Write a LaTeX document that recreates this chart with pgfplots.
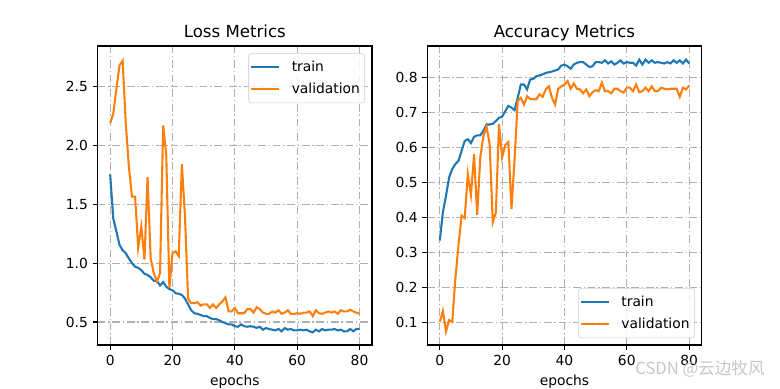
\documentclass[border=0pt]{standalone}
\usepackage{fontspec}
\setmainfont{DejaVu Sans}
\newfontfamily\cjk{Noto Sans CJK SC}
\usepackage{pgfplots}
\usepackage{pgfplotstable}
\pgfplotsset{compat=1.18}
\definecolor{tabblue}{HTML}{1F77B4}
\definecolor{taborange}{HTML}{FF7F0E}
\definecolor{gridgray}{HTML}{B0B0B0}
\definecolor{legedge}{HTML}{CCCCCC}

\pgfplotstableread{
e tl vl ta va
0 1.754 2.19 0.334 0.102
1 1.38 2.27 0.415 0.133
2 1.27 2.48 0.462 0.075
3 1.155 2.68 0.514 0.107
4 1.11 2.72 0.538 0.102
5 1.085 2.19 0.552 0.225
6 1.04 1.82 0.561 0.32
7 1.00 1.565 0.59 0.405
8 0.97 1.565 0.618 0.398
9 0.96 1.13 0.623 0.523
10 0.94 1.31 0.612 0.464
11 0.91 1.03 0.630 0.58
12 0.90 1.73 0.634 0.407
13 0.88 1.04 0.634 0.571
14 0.85 0.915 0.647 0.632
15 0.85 0.845 0.665 0.659
16 0.81 0.915 0.665 0.609
17 0.84 2.17 0.667 0.386
18 0.80 1.92 0.675 0.414
19 0.78 0.79 0.684 0.666
20 0.77 1.085 0.687 0.571
21 0.745 1.10 0.703 0.606
22 0.74 1.06 0.718 0.615
23 0.73 1.84 0.713 0.424
24 0.70 1.40 0.706 0.566
25 0.65 0.70 0.741 0.732
26 0.60 0.66 0.779 0.741
27 0.575 0.66 0.779 0.722
28 0.57 0.67 0.765 0.746
29 0.56 0.64 0.793 0.738
30 0.55 0.65 0.795 0.737
31 0.55 0.65 0.803 0.737
32 0.535 0.62 0.805 0.751
33 0.525 0.65 0.808 0.744
34 0.525 0.62 0.812 0.765
35 0.515 0.65 0.814 0.774
36 0.50 0.675 0.816 0.741
37 0.49 0.71 0.819 0.722
38 0.48 0.59 0.822 0.767
39 0.48 0.59 0.833 0.774
40 0.465 0.62 0.836 0.779
41 0.46 0.575 0.831 0.789
42 0.48 0.575 0.824 0.767
43 0.465 0.575 0.836 0.782
44 0.46 0.61 0.841 0.767
45 0.465 0.61 0.843 0.765
46 0.46 0.58 0.843 0.754
47 0.45 0.625 0.836 0.765
48 0.46 0.61 0.829 0.746
49 0.435 0.58 0.831 0.757
50 0.449 0.57 0.843 0.763
51 0.441 0.57 0.843 0.760
52 0.435 0.59 0.841 0.784
53 0.429 0.58 0.848 0.760
54 0.441 0.60 0.839 0.760
55 0.421 0.57 0.845 0.754
56 0.449 0.58 0.836 0.767
57 0.435 0.60 0.841 0.767
58 0.441 0.57 0.848 0.760
59 0.429 0.57 0.839 0.756
60 0.429 0.575 0.843 0.770
61 0.435 0.57 0.841 0.770
62 0.429 0.58 0.841 0.760
63 0.435 0.58 0.833 0.779
64 0.421 0.59 0.85 0.757
65 0.412 0.55 0.836 0.760
66 0.435 0.60 0.85 0.770
67 0.421 0.575 0.841 0.760
68 0.441 0.57 0.848 0.774
69 0.429 0.58 0.841 0.760
70 0.435 0.59 0.843 0.760
71 0.435 0.58 0.841 0.770
72 0.441 0.59 0.839 0.767
73 0.429 0.57 0.843 0.765
74 0.435 0.60 0.839 0.767
75 0.421 0.59 0.848 0.767
76 0.421 0.59 0.841 0.767
77 0.441 0.605 0.848 0.744
78 0.421 0.59 0.839 0.770
79 0.441 0.58 0.85 0.765
80 0.441 0.57 0.839 0.776
}\metrics

\pgfplotsset{mpl/.style={
  width=197.5bp, height=215.3bp, scale only axis,
  xmin=-4, xmax=84, xtick={0,20,40,60,80},
  axis line style={line width=0.8bp, black},
  every tick/.style={line width=0.8bp, black},
  tick align=outside, major tick length=3.5bp,
  tick pos=left,
  grid=major,
  major grid style={gridgray, line width=0.8bp, dash pattern=on 5.5bp off 2bp on 1bp off 2bp},
  /pgf/number format/assume math mode=true,
  tick label style={font=\fontsize{10}{12}\selectfont},
  label style={font=\fontsize{10}{12}\selectfont},
  every axis title/.style={font=\fontsize{12}{14}\selectfont, at={(0.5,1)}, anchor=base, yshift=5.8bp},
  xlabel={epochs},
  legend style={font=\fontsize{10}{12}\selectfont, draw=legedge, rounded corners=2bp,
    fill=white, fill opacity=0.8, text opacity=1,
    inner xsep=1bp, inner ysep=4.3bp, row sep=4.8bp,
    nodes={inner xsep=2.5bp, inner ysep=1bp},
    /tikz/every odd column/.append style={column sep=6bp}},
  legend cell align=left,
  legend image code/.code={\draw[line width=1.5bp] (0bp,0bp) -- (20bp,0bp);},
  every axis plot/.append style={line width=1.5bp},
}}

\begin{document}
\begin{tikzpicture}
\path[use as bounding box] (0,0) rectangle (561.6bp,280.08bp);
\begin{axis}[mpl, at={(70.34bp,31.68bp)}, anchor=south west,
  title={Loss Metrics},
  ymin=0.305, ymax=2.845, ytick={0.5,1.0,1.5,2.0,2.5},
  yticklabel style={/pgf/number format/fixed, /pgf/number format/fixed zerofill, /pgf/number format/precision=1},
  legend style={at={(1,1)}, anchor=north east, xshift=-5bp, yshift=-5.3bp}]
\addplot[tabblue] table[x=e, y=tl] {\metrics};
\addlegendentry{train}
\addplot[taborange] table[x=e, y=vl] {\metrics};
\addlegendentry{validation}
\end{axis}
\begin{axis}[mpl, at={(307.66bp,31.68bp)}, anchor=south west,
  title={Accuracy Metrics},
  ymin=0.036, ymax=0.889, ytick={0.1,0.2,0.3,0.4,0.5,0.6,0.7,0.8},
  yticklabel style={/pgf/number format/fixed, /pgf/number format/fixed zerofill, /pgf/number format/precision=1},
  legend style={at={(1,0)}, anchor=south east, xshift=-5bp, yshift=5bp}]
\addplot[tabblue] table[x=e, y=ta] {\metrics};
\addlegendentry{train}
\addplot[taborange] table[x=e, y=va] {\metrics};
\addlegendentry{validation}
\end{axis}
\node[anchor=center, text=black!22, font=\cjk\fontsize{12}{14}\selectfont] at (504bp,14.4bp) {CSDN @云边牧风};
\end{tikzpicture}
\end{document}
